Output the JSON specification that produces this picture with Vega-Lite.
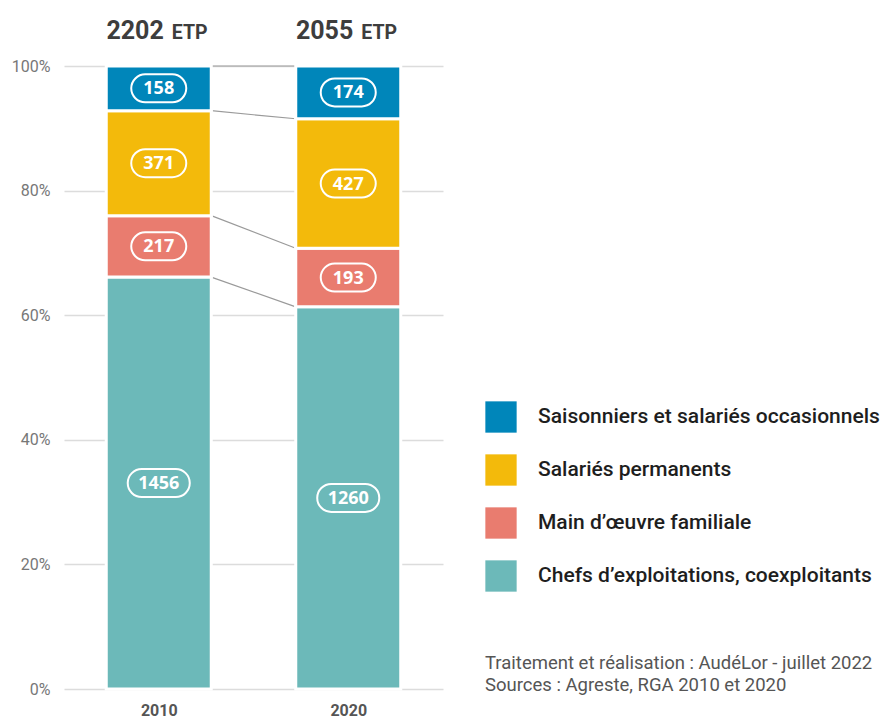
{
  "$schema": "https://vega.github.io/schema/vega-lite/v6.json",
  "width": 379,
  "height": 623,
  "autosize": {"type": "none"},
  "padding": {"left": 64, "top": 66, "right": 442, "bottom": 29},
  "background": "white",
  "config": {"view": {"stroke": null}},
  "title": {
    "text": ["Traitement et réalisation : AudéLor - juillet 2022", "Sources : Agreste, RGA 2010 et 2020"],
    "orient": "top",
    "anchor": "start",
    "frame": "group",
    "baseline": "top",
    "offset": 0,
    "dx": 421,
    "dy": 675,
    "font": "Roboto",
    "fontSize": 18.5,
    "fontWeight": "normal",
    "color": "#555555",
    "lineHeight": 22
  },
  "datasets": {
    "etp": [
      {"year": 2010, "cat": "Chefs d’exploitations, coexploitants", "ordre": 1, "value": 1456},
      {"year": 2010, "cat": "Main d’œuvre familiale", "ordre": 2, "value": 217},
      {"year": 2010, "cat": "Salariés permanents", "ordre": 3, "value": 371},
      {"year": 2010, "cat": "Saisonniers et salariés occasionnels", "ordre": 4, "value": 158},
      {"year": 2020, "cat": "Chefs d’exploitations, coexploitants", "ordre": 1, "value": 1260},
      {"year": 2020, "cat": "Main d’œuvre familiale", "ordre": 2, "value": 193},
      {"year": 2020, "cat": "Salariés permanents", "ordre": 3, "value": 427},
      {"year": 2020, "cat": "Saisonniers et salariés occasionnels", "ordre": 4, "value": 174}
    ],
    "totals": [
      {"year": 2010, "total": 2202},
      {"year": 2020, "total": 2055}
    ]
  },
  "data": {"name": "etp"},
  "transform": [
    {"stack": "value", "groupby": ["year"], "sort": [{"field": "ordre", "order": "ascending"}], "offset": "normalize", "as": ["y0", "y1"]}
  ],
  "layer": [
    {
      "transform": [{"pivot": "year", "value": "y1", "groupby": ["cat"]}],
      "mark": {"type": "rule", "color": "#9a9a9a", "strokeWidth": 1.2, "xOffset": 52.5, "x2Offset": -52.5},
      "encoding": {
        "x": {"datum": 2010, "type": "quantitative"},
        "x2": {"datum": 2020},
        "y": {"field": "2010", "type": "quantitative"},
        "y2": {"field": "2020"}
      }
    },
    {
      "mark": {"type": "bar", "width": 105, "stroke": "white", "strokeWidth": 3},
      "encoding": {
        "x": {
          "field": "year", "type": "quantitative",
          "scale": {"domain": [2005, 2025], "zero": false, "nice": false, "padding": 0},
          "axis": {
            "values": [2010, 2020], "format": "d", "title": null, "grid": false,
            "domain": false, "ticks": false, "labelPadding": 13,
            "labelFont": "Roboto", "labelFontSize": 16, "labelFontWeight": "bold", "labelColor": "#555555"
          }
        },
        "y": {
          "field": "y0", "type": "quantitative",
          "scale": {"domain": [0, 1], "nice": false},
          "axis": {
            "values": [0, 0.2, 0.4, 0.6, 0.8, 1], "format": ".0%", "title": null,
            "domain": false, "ticks": false, "labelPadding": 14,
            "gridColor": "#dcdcdc", "gridWidth": 1.5,
            "labelFont": "Roboto", "labelFontSize": 16, "labelColor": "#777777"
          }
        },
        "y2": {"field": "y1"},
        "color": {
          "field": "cat", "type": "nominal",
          "scale": {
            "domain": ["Saisonniers et salariés occasionnels", "Salariés permanents", "Main d’œuvre familiale", "Chefs d’exploitations, coexploitants"],
            "range": ["#0086BA", "#F3BA0B", "#E97C6F", "#6CB9B9"]
          },
          "legend": {
            "title": null, "orient": "none", "legendX": 421, "legendY": 335,
            "symbolType": "square", "symbolSize": 980, "symbolStrokeWidth": 0, "symbolOpacity": 1,
            "labelFont": "Roboto", "labelFontSize": 21, "labelFontWeight": 500, "labelColor": "#1e1e1e",
            "labelOffset": 21, "rowPadding": 21, "labelLimit": 500
          }
        }
      }
    },
    {
      "transform": [{"calculate": "(datum.y0 + datum.y1) / 2", "as": "mid"}],
      "mark": {"type": "point", "filled": false, "stroke": "white", "strokeWidth": 2, "size": 3600, "opacity": 1},
      "encoding": {
        "x": {"field": "year", "type": "quantitative"},
        "y": {"field": "mid", "type": "quantitative"},
        "shape": {
          "condition": {"test": "datum.value >= 1000", "value": "M-0.567,-0.467 L0.567,-0.467 C0.825,-0.467 1.034,-0.258 1.034,0 C1.034,0.258 0.825,0.467 0.567,0.467 L-0.567,0.467 C-0.825,0.467 -1.034,0.258 -1.034,0 C-1.034,-0.258 -0.825,-0.467 -0.567,-0.467 Z"},
          "value": "M-0.45,-0.467 L0.45,-0.467 C0.708,-0.467 0.917,-0.258 0.917,0 C0.917,0.258 0.708,0.467 0.45,0.467 L-0.45,0.467 C-0.708,0.467 -0.917,0.258 -0.917,0 C-0.917,-0.258 -0.708,-0.467 -0.45,-0.467 Z"
        }
      }
    },
    {
      "transform": [{"calculate": "(datum.y0 + datum.y1) / 2", "as": "mid"}],
      "mark": {"type": "text", "color": "white", "font": "Open Sans", "fontSize": 18, "fontWeight": "bold", "baseline": "middle", "align": "center", "dy": 1},
      "encoding": {
        "x": {"field": "year", "type": "quantitative"},
        "y": {"field": "mid", "type": "quantitative"},
        "text": {"field": "value", "type": "quantitative"}
      }
    },
    {
      "data": {"name": "totals"},
      "mark": {"type": "text", "font": "Roboto", "fontSize": 25, "fontWeight": "bold", "color": "#3d3d3d", "align": "right", "baseline": "alphabetic", "xOffset": 5, "yOffset": -27},
      "encoding": {
        "x": {"field": "year", "type": "quantitative"},
        "y": {"datum": 1},
        "text": {"field": "total", "type": "quantitative"}
      }
    },
    {
      "data": {"name": "totals"},
      "mark": {"type": "text", "text": "ETP", "font": "Roboto", "fontSize": 19.5, "fontWeight": "bold", "color": "#3d3d3d", "align": "left", "baseline": "alphabetic", "xOffset": 13, "yOffset": -27},
      "encoding": {
        "x": {"field": "year", "type": "quantitative"},
        "y": {"datum": 1}
      }
    }
  ]
}
